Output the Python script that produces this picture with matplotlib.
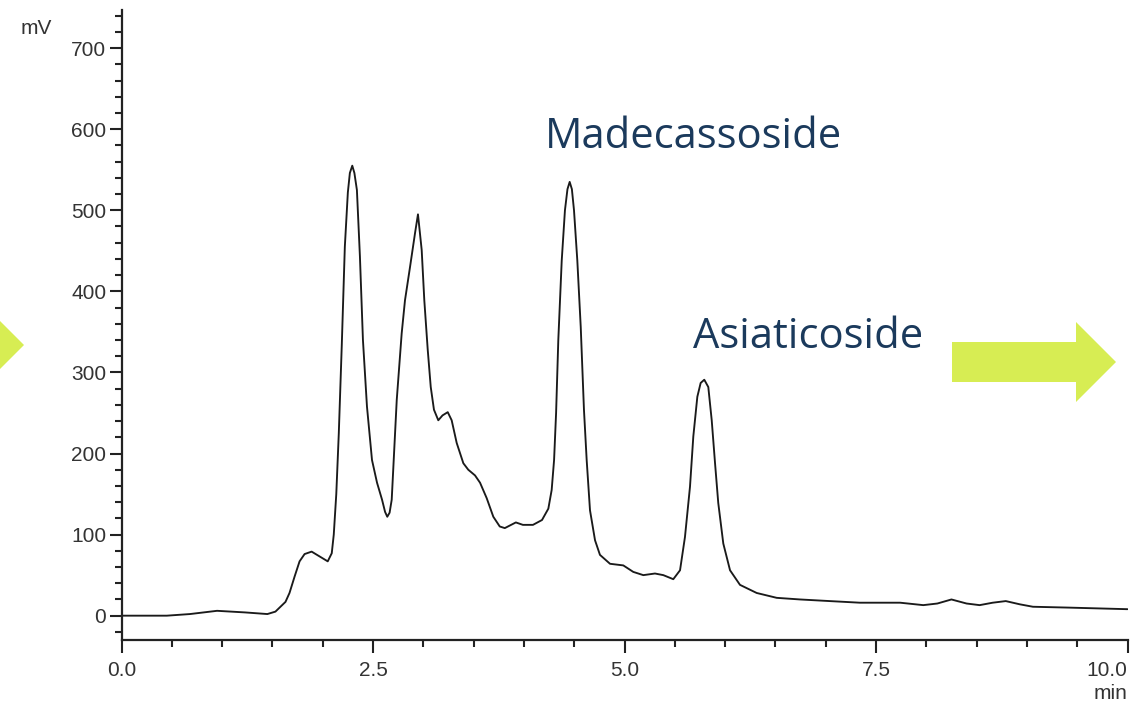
import matplotlib
matplotlib.use("Agg")
import matplotlib.pyplot as plt
from matplotlib.patches import Polygon
from matplotlib.ticker import MultipleLocator

# Chromatogram trace: retention time (min) and detector signal (mV)
time_min = [
    0.00, 0.45, 0.68, 0.95, 1.23, 1.45, 1.53, 1.58, 1.63, 1.67, 1.72, 1.77,
    1.82, 1.89, 1.97, 2.05, 2.09, 2.11, 2.135, 2.16, 2.19, 2.22, 2.25, 2.27,
    2.294, 2.315, 2.34, 2.37, 2.40, 2.44, 2.49, 2.54, 2.59, 2.62, 2.642, 2.665,
    2.686, 2.736, 2.785, 2.818, 2.868, 2.918, 2.947, 2.984, 3.010, 3.044,
    3.074, 3.106, 3.149, 3.191, 3.243, 3.282, 3.332, 3.398, 3.447, 3.514,
    3.564, 3.630, 3.696, 3.76, 3.81, 3.92, 3.99, 4.09, 4.18,
    4.243, 4.276, 4.300, 4.320, 4.342, 4.376, 4.408, 4.433, 4.455, 4.477,
    4.498, 4.531, 4.565, 4.597, 4.624, 4.657, 4.707, 4.756, 4.856, 4.988,
    5.087, 5.187, 5.303, 5.386, 5.485, 5.552, 5.601, 5.651, 5.684, 5.724,
    5.757, 5.793, 5.833, 5.867, 5.900, 5.932, 5.982, 6.049, 6.148, 6.314,
    6.513, 6.745, 7.04, 7.34, 7.74, 7.97, 8.11, 8.25, 8.40, 8.53, 8.66, 8.79,
    8.93, 9.06, 9.40, 10.00,
]
signal_mv = [
    0, 0, 2, 6, 4, 2, 5, 11, 17, 28, 48, 67,
    76, 79, 73, 67, 77, 100, 150, 225, 335, 455, 522, 546,
    555, 546, 525, 443, 340, 258, 192, 164, 143, 128, 122, 127,
    143, 266, 348, 389, 430, 472, 495, 451, 389, 328,
    282, 254, 241, 247, 251, 241, 213, 188, 180, 173,
    164, 145, 122, 110, 108, 115, 112, 112, 118,
    132, 155, 192, 250, 340, 438, 500, 526, 535, 526,
    500, 438, 356, 254, 192, 130, 93, 75, 64, 62,
    54, 50, 52, 50, 45, 56, 97, 159, 221, 270,
    287, 291, 282, 241, 188, 139, 89, 56, 38, 28,
    22, 20, 18, 16, 16, 13, 15, 20, 15, 13, 16, 18,
    14, 11, 10, 8,
]

x_ticks = [0.0, 2.5, 5.0, 7.5, 10.0]
x_tick_labels = ["0.0", "2.5", "5.0", "7.5", "10.0"]
y_ticks = [0, 100, 200, 300, 400, 500, 600, 700]
y_tick_labels = ["0", "100", "200", "300", "400", "500", "600", "700"]

peak_names = ["Madecassoside", "Asiaticoside"]

W, H = 1130, 703
fig = plt.figure(figsize=(W / 100, H / 100), dpi=100)
fig.patch.set_facecolor("white")

def fx(px):
    return px / W

def fy(py):
    return 1 - py / H

ax = fig.add_axes([fx(121.5), fy(640), (1127.5 - 121.5) / W, (640 - 10) / H])
ax.plot(time_min, signal_mv, color="#1a1a1a", lw=1.35,
        solid_joinstyle="round", solid_capstyle="round")

ax.set_xlim(0, 10)
ax.set_ylim(-30, 747)

for s in ("top", "right"):
    ax.spines[s].set_visible(False)
for s in ("left", "bottom"):
    ax.spines[s].set_linewidth(1.6)
    ax.spines[s].set_color("#222222")

tick_font = dict(family=["Liberation Sans", "DejaVu Sans"],
                 size=15, color="#333333")

ax.set_xticks(x_ticks)
ax.set_xticklabels(x_tick_labels, **tick_font)
ax.xaxis.set_minor_locator(MultipleLocator(0.5))
ax.set_yticks(y_ticks)
ax.set_yticklabels(y_tick_labels, **tick_font)
ax.yaxis.set_minor_locator(MultipleLocator(20))
ax.get_xticklabels()[-1].set_horizontalalignment("right")

ax.tick_params(axis="both", which="major", length=9, width=1.5, color="#222222")
ax.tick_params(axis="both", which="minor", length=5, width=1.5, color="#222222")
ax.tick_params(axis="x", which="major", pad=6)
ax.tick_params(axis="y", which="major", pad=2)

fig.text(fx(21), fy(34), "mV", ha="left", va="baseline", **tick_font)
fig.text(fx(1127), fy(699), "min", ha="right", va="baseline", **tick_font)

label_font = dict(family=["Open Sans", "DejaVu Sans"], size=30, color="#1b3a5c")
fig.text(fx(545), fy(148), peak_names[0], ha="left", va="baseline", **label_font)
fig.text(fx(693), fy(348), peak_names[1], ha="left", va="baseline", **label_font)

lime = "#d7ed53"
right_arrow = [(952, 342), (1076, 342), (1076, 322), (1116, 362),
               (1076, 402), (1076, 382), (952, 382)]
fig.patches.append(Polygon([(fx(a), fy(b)) for a, b in right_arrow],
                           closed=True, transform=fig.transFigure,
                           facecolor=lime, edgecolor="none"))
left_arrow = [(-60, 325), (-16, 325), (-16, 305), (24, 345),
              (-16, 385), (-16, 365), (-60, 365)]
fig.patches.append(Polygon([(fx(a), fy(b)) for a, b in left_arrow],
                           closed=True, transform=fig.transFigure,
                           facecolor=lime, edgecolor="none"))

fig.savefig("out.png", dpi=100, facecolor="white")
